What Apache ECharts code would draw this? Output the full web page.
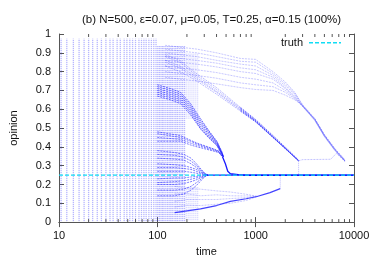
<!DOCTYPE html>
<html>
<head>
<meta charset="utf-8">
<script src="https://cdn.jsdelivr.net/npm/echarts@6/dist/echarts.min.js"></script>
<style>
html,body{margin:0;padding:0;background:#fff;}
#c{width:374px;height:262px;}
</style>
</head>
<body>
<div id="c"></div>
<script>
// ---------- data ----------
const titleText = '(b) N=500, \u03b5=0.07, \u03bc=0.05, T=0.25, \u03b1=0.15 (100%)';
const legendLabel = 'truth';
const xMinorTicks = [20,30,40,50,60,70,80,90,200,300,400,500,600,700,800,900,2000,3000,4000,5000,6000,7000,8000,9000];
const truthValue = 0.25;

// early time columns (every agent's opinion plotted as dots)
const stripeTimesEarly = [10.5,12,14,16,18,20,22,24.5,27,30,33,35.5,39,42,46,49,52.5,56,60,65,69,73,77,82,87,92,97];
const stripeSpanEarly = [0.005, 0.975];
const stripeTimesMid = [101,105,109,113,117,122,127,132,137,142,148,154,160,167,174,181,189];
const stripeSpanMid = [0.005, 0.94];
const stripeTimesLate = [197,206,215,225,235,246,257];
const stripeSpansLate = [[0.01,0.19],[0.55,0.90]];

// group A: slow high cluster
const timesA = [120, 170, 250, 400, 700, 1000, 1500, 2000, 2500, 3000, 4000, 5000, 6400, 8100];
const groupA = [
  [0.94, 0.93, 0.92, 0.90, 0.87, 0.865, 0.80, 0.745, 0.69, 0.62, 0.545, 0.46, 0.385, 0.325],
  [0.92, 0.91, 0.90, 0.88, 0.855, 0.85, 0.79, 0.735, 0.685, 0.625, 0.55, 0.465, 0.39, 0.33],
  [0.90, 0.89, 0.88, 0.86, 0.84, 0.83, 0.78, 0.725, 0.68, 0.615, 0.54, 0.455, 0.38, 0.325],
  [0.88, 0.87, 0.86, 0.845, 0.82, 0.81, 0.77, 0.715, 0.67, 0.62, 0.545, 0.46, 0.385, 0.325],
  [0.86, 0.85, 0.84, 0.825, 0.80, 0.79, 0.76, 0.71, 0.665, 0.615, 0.54, 0.455, 0.38, 0.32],
  [0.83, 0.82, 0.81, 0.795, 0.77, 0.76, 0.74, 0.70, 0.66, 0.62, 0.545, 0.46, 0.385, 0.325],
  [0.80, 0.79, 0.78, 0.765, 0.74, 0.73, 0.72, 0.69, 0.655, 0.615, 0.55, 0.465, 0.39, 0.33],
  [0.77, 0.76, 0.75, 0.735, 0.715, 0.705, 0.70, 0.675, 0.65, 0.62, 0.545, 0.46, 0.385, 0.325]
];

// group B: middle cluster ending near t=2700 (faint early part, dense late part)
const timesB = [120, 170, 235, 400, 700, 1000, 1500, 2080, 2730];
const groupB = [
  [0.89, 0.86, 0.80, 0.715, 0.61, 0.545, 0.46, 0.39, 0.33],
  [0.88, 0.85, 0.79, 0.705, 0.605, 0.54, 0.455, 0.385, 0.326],
  [0.86, 0.83, 0.78, 0.695, 0.60, 0.537, 0.452, 0.383, 0.325],
  [0.85, 0.82, 0.77, 0.69, 0.595, 0.535, 0.45, 0.382, 0.326],
  [0.83, 0.80, 0.76, 0.68, 0.59, 0.532, 0.45, 0.384, 0.327]
];
const denseStartB = 4; // index in timesB from which the band is dense

// group C: two bands merging near t=460 and dropping to the truth
const timesCu = [100, 136, 172, 218, 275, 330, 405, 455, 470];
const groupCu = [
  [0.73, 0.71, 0.69, 0.63, 0.55, 0.49, 0.428, 0.372, 0.349],
  [0.72, 0.70, 0.68, 0.62, 0.54, 0.485, 0.425, 0.37, 0.348],
  [0.71, 0.69, 0.67, 0.61, 0.53, 0.478, 0.42, 0.366, 0.347],
  [0.70, 0.68, 0.66, 0.60, 0.52, 0.47, 0.416, 0.364, 0.347],
  [0.69, 0.67, 0.65, 0.59, 0.51, 0.462, 0.412, 0.362, 0.346],
  [0.68, 0.66, 0.64, 0.58, 0.50, 0.455, 0.408, 0.36, 0.346],
  [0.67, 0.65, 0.63, 0.57, 0.495, 0.45, 0.405, 0.358, 0.346]
];
const timesCl = [100, 172, 218, 254, 370, 420, 460];
const groupCl = [
  [0.48, 0.46, 0.435, 0.42, 0.39, 0.378, 0.35],
  [0.47, 0.45, 0.43, 0.415, 0.388, 0.376, 0.35],
  [0.45, 0.44, 0.42, 0.408, 0.383, 0.373, 0.348],
  [0.43, 0.43, 0.41, 0.40, 0.378, 0.37, 0.347]
];
const timesCm = [460, 492, 520, 553, 665, 817, 10000];
const valsCm = [0.347, 0.31, 0.27, 0.257, 0.252, 0.249, 0.25];

// group D: converges on the truth at t~320
const timesD = [100, 150, 186, 220, 250, 280, 305, 325];
const groupD = [
  [0.38, 0.37, 0.36, 0.34, 0.31, 0.28, 0.26, 0.25],
  [0.36, 0.355, 0.345, 0.325, 0.30, 0.275, 0.257, 0.25],
  [0.34, 0.335, 0.33, 0.31, 0.29, 0.27, 0.255, 0.25],
  [0.31, 0.305, 0.30, 0.29, 0.28, 0.265, 0.253, 0.25],
  [0.29, 0.29, 0.285, 0.28, 0.27, 0.26, 0.252, 0.25],
  [0.27, 0.27, 0.27, 0.265, 0.26, 0.255, 0.25, 0.25],
  [0.23, 0.235, 0.235, 0.24, 0.243, 0.246, 0.249, 0.25],
  [0.21, 0.215, 0.22, 0.228, 0.235, 0.242, 0.248, 0.25],
  [0.20, 0.20, 0.205, 0.215, 0.225, 0.237, 0.246, 0.25],
  [0.17, 0.17, 0.175, 0.19, 0.21, 0.23, 0.244, 0.25],
  [0.14, 0.14, 0.15, 0.17, 0.195, 0.222, 0.242, 0.25]
];
const timesConv = [320, 10000];
const valsConv = [0.25, 0.25];

// group E: low cluster, jumps to truth at t~1780
const timesE = [150, 200, 275, 400, 553, 800, 1033, 1400, 1777];
const valsE = [0.05, 0.06, 0.07, 0.088, 0.11, 0.124, 0.136, 0.157, 0.178];
const timesEjump = [1777, 1780];
const valsEjump = [0.178, 0.25];
const timesEf = [150, 200, 275, 400, 553, 800, 1033];
const groupEf = [
  [0.19, 0.18, 0.175, 0.166, 0.16, 0.148, 0.137],
  [0.15, 0.15, 0.14, 0.145, 0.14, 0.139, 0.137],
  [0.11, 0.12, 0.12, 0.12, 0.125, 0.13, 0.136],
  [0.08, 0.09, 0.088, 0.095, 0.10, 0.115, 0.135]
];

// late jumps / remnants
const timesBdrop = [2730, 2735];
const valsBdrop = [0.326, 0.25];
const timesRem = [2730, 3000, 5800, 6600, 8100];
const valsRem = [0.326, 0.332, 0.334, 0.365, 0.325];

// ---------- build chart ----------
const FONT = 'Liberation Sans, Arial, sans-serif';
const chart = echarts.init(document.getElementById('c'), null, {renderer: 'canvas'});

function pairs(times, vals) { return times.map((t, i) => [t, vals[i]]); }
function traj(data, color, width, dash, z) {
  return {type: 'line', data: data, symbol: 'none', showSymbol: false,
    lineStyle: {color: color, width: width, type: dash || 'solid'}, silent: true, z: z || 3, animation: false};
}
function stripeRows(times, span) { return times.map(t => [t, span[0], span[1]]); }
function stripeSeries(rows, color) {
  return {type: 'custom', data: rows, silent: true, z: 1, clip: true, animation: false,
    encode: {x: 0, y: [1, 2]},
    renderItem: function (params, api) {
      const p1 = api.coord([api.value(0), api.value(1)]);
      const p2 = api.coord([api.value(0), api.value(2)]);
      return {type: 'line', shape: {x1: p1[0], y1: p1[1], x2: p2[0], y2: p2[1]},
        style: {stroke: color, lineWidth: 1.3, lineDash: [1, 1]}};
    }};
}

const series = [];
series.push(stripeSeries(stripeRows(stripeTimesEarly, stripeSpanEarly), 'rgba(50,50,255,0.42)'));
series.push(stripeSeries(stripeRows(stripeTimesMid, stripeSpanMid), 'rgba(50,50,255,0.4)'));
let lateRows = [];
stripeSpansLate.forEach(sp => { lateRows = lateRows.concat(stripeRows(stripeTimesLate, sp)); });
series.push(stripeSeries(lateRows, 'rgba(50,50,255,0.22)'));

groupA.forEach(v => series.push(traj(pairs(timesA, v), 'rgba(70,70,255,0.3)', 1, [2, 1])));
groupB.forEach(v => {
  const d = pairs(timesB, v);
  series.push(traj(d.slice(0, denseStartB + 1), 'rgba(40,40,255,0.3)', 1, [2, 1]));
  series.push(traj(d.slice(denseStartB), 'rgba(20,20,255,0.55)', 1, [2, 1]));
});
groupCu.forEach(v => series.push(traj(pairs(timesCu, v), 'rgba(20,20,255,0.6)', 1, [2, 1])));
groupCl.forEach(v => series.push(traj(pairs(timesCl, v), 'rgba(20,20,255,0.55)', 1, [2, 1])));
series.push(traj(pairs(timesCm, valsCm), 'rgba(0,0,255,0.9)', 1.3, 'solid', 4));
groupD.forEach(v => series.push(traj(pairs(timesD, v), 'rgba(20,20,255,0.55)', 1, [2, 1])));
series.push(traj(pairs(timesConv, valsConv), 'rgba(0,0,255,0.9)', 1.3, 'solid', 4));
series.push(traj(pairs(timesE, valsE), 'rgba(20,20,255,0.8)', 1.2));
series.push(traj(pairs(timesEjump, valsEjump), 'rgba(60,60,255,0.35)', 1, [1, 1]));
groupEf.forEach(v => series.push(traj(pairs(timesEf, v), 'rgba(60,60,255,0.28)', 1, [2, 1])));
series.push(traj(pairs(timesBdrop, valsBdrop), 'rgba(60,60,255,0.35)', 1, [1, 1]));
series.push(traj(pairs(timesRem, valsRem), 'rgba(60,60,255,0.3)', 1, [2, 1]));

// minor ticks of the log axis (bottom and top)
series.push({type: 'custom', data: xMinorTicks.map(v => [v, 0]), silent: true, z: 10, clip: false,
  animation: false, encode: {x: 0, y: 1},
  renderItem: function (params, api) {
    const b = api.coord([api.value(0), 0]);
    const t = api.coord([api.value(0), 1]);
    return {type: 'group', children: [
      {type: 'line', shape: {x1: b[0], y1: b[1], x2: b[0], y2: b[1] - 3}, style: {stroke: '#555', lineWidth: 1}},
      {type: 'line', shape: {x1: t[0], y1: t[1], x2: t[0], y2: t[1] + 3}, style: {stroke: '#555', lineWidth: 1}}
    ]};
  }});

// truth line
const TRUTH_COLOR = '#10dcf4';
series.push({name: legendLabel, type: 'line', data: [[10, truthValue], [10000, truthValue]],
  symbol: 'none', showSymbol: false, z: 6, silent: true, animation: false,
  lineStyle: {color: TRUTH_COLOR, width: 1.2, type: [4, 2]}});

const axisLine = {show: true, lineStyle: {color: '#555', width: 1}};
const option = {
  animation: false,
  backgroundColor: '#fff',
  title: {text: titleText, left: 77, top: 9,
    textStyle: {fontFamily: FONT, fontSize: 11.5, fontWeight: 'normal', color: '#111'}},
  // legend key (gnuplot style: label then line sample)
  graphic: [
    {type: 'text', left: 281, top: 37, silent: true, z: 20,
      style: {text: legendLabel, font: '11px ' + FONT, fill: '#111'}},
    {type: 'rect', left: 309, top: 42, silent: true, z: 20,
      shape: {x: 0, y: 0, width: 4, height: 1.5}, style: {fill: TRUTH_COLOR}},
    {type: 'rect', left: 315, top: 42, silent: true, z: 20,
      shape: {x: 0, y: 0, width: 4, height: 1.5}, style: {fill: TRUTH_COLOR}},
    {type: 'rect', left: 321, top: 42, silent: true, z: 20,
      shape: {x: 0, y: 0, width: 4, height: 1.5}, style: {fill: TRUTH_COLOR}},
    {type: 'rect', left: 327, top: 42, silent: true, z: 20,
      shape: {x: 0, y: 0, width: 4, height: 1.5}, style: {fill: TRUTH_COLOR}},
    {type: 'rect', left: 333, top: 42, silent: true, z: 20,
      shape: {x: 0, y: 0, width: 4, height: 1.5}, style: {fill: TRUTH_COLOR}},
    {type: 'rect', left: 339, top: 42, silent: true, z: 20,
      shape: {x: 0, y: 0, width: 2, height: 1.5}, style: {fill: TRUTH_COLOR}}
  ],
  grid: {left: 58, right: 20, top: 34, bottom: 35, containLabel: false},
  xAxis: [
    {type: 'log', logBase: 10, min: 10, max: 10000, position: 'bottom',
      name: 'time', nameLocation: 'middle', nameGap: 20,
      nameTextStyle: {fontFamily: FONT, fontSize: 11, color: '#111'},
      axisLine: axisLine, axisTick: {show: true, inside: true, length: 5, lineStyle: {color: '#555'}},
      axisLabel: {fontFamily: FONT, fontSize: 11, color: '#111', margin: 8,
        formatter: v => String(Math.round(v))},
      splitLine: {show: false}},
    {type: 'log', logBase: 10, min: 10, max: 10000, position: 'top',
      axisLine: axisLine, axisTick: {show: true, inside: true, length: 5, lineStyle: {color: '#555'}},
      axisLabel: {show: false}, splitLine: {show: false}}
  ],
  yAxis: [
    {type: 'value', min: 0, max: 1, interval: 0.1, position: 'left',
      name: 'opinion', nameLocation: 'middle', nameGap: 40,
      nameTextStyle: {fontFamily: FONT, fontSize: 11, color: '#111'},
      axisLine: axisLine, axisTick: {show: true, inside: true, length: 5, lineStyle: {color: '#555'}},
      axisLabel: {fontFamily: FONT, fontSize: 11, color: '#111', margin: 8,
        formatter: v => (v === 0 ? '0' : v === 1 ? '1' : v.toFixed(1))},
      splitLine: {show: false}},
    {type: 'value', min: 0, max: 1, interval: 0.1, position: 'right',
      axisLine: axisLine, axisTick: {show: true, inside: true, length: 5, lineStyle: {color: '#555'}},
      axisLabel: {show: false}, splitLine: {show: false}}
  ],
  series: series
};
chart.setOption(option);
</script>
</body>
</html>
